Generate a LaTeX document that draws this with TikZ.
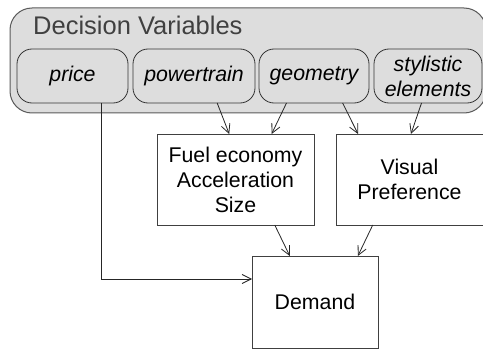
\documentclass[tikz,border=0pt]{standalone}
\usepackage{fontspec}
\setmainfont{Liberation Sans}
\usetikzlibrary{arrows.meta, calc, positioning}
\definecolor{dvGray}{RGB}{221,221,221}
\definecolor{dvLine}{RGB}{90,90,90}
\tikzset{
    outerBox/.style={draw=dvLine, fill=dvGray, rounded corners=22pt, line width=1pt, inner sep=0pt, outer sep=0pt},
    varBox/.style={draw=black!80, fill=dvGray, rounded corners=15pt, line width=0.8pt, inner sep=0pt, outer sep=0pt, minimum height=54pt, align=center, font=\fontsize{21.3}{25}\selectfont\itshape},
    effectBox/.style={draw=black!75, fill=white, line width=0.8pt, inner sep=0pt, outer sep=0pt, minimum height=91pt, align=center, font=\fontsize{21.3}{25}\selectfont},
    dvArrow/.style={-{Straight Barb[length=9pt, width=9pt]}, line width=0.8pt, black!85},
}

\begin{document}
\begin{tikzpicture}[x=1pt, y=1pt]
    \clip (0,0) rectangle (483,349);
    \useasboundingbox (0,0) rectangle (483,349);

    % 1. Decision variables
    \draw[outerBox] (10,341) rectangle (486,236);
    \node[anchor=base west, inner sep=0pt, text=black!75, font=\fontsize{25.5}{30}\selectfont] (title) at (33,314) {Decision Variables};
    \node[varBox, minimum width=111pt] (price) at (72.5,273) {price};
    \node[varBox, minimum width=122pt] (pwr) at (194,273) {powertrain};
    \node[varBox, minimum width=110pt] (geo) at (314,273) {geometry};
    \node[varBox, minimum width=108pt] (style) at (428,273) {stylistic\\elements};

    % 2. Attributes
    \node[effectBox, minimum width=157pt] (fuel) at (235.5,169.5) {Fuel economy\\Acceleration\\Size};
    \node[effectBox, minimum width=147pt] (visual) at (409.5,169.5) {Visual\\Preference};

    % 3. Demand
    \node[effectBox, minimum width=126pt, minimum height=92pt] (demand) at (315,47) {Demand};

    % 4. Links
    \draw[dvArrow] ($(pwr.south west)!.69!(pwr.south east)$) -- ($(fuel.north west)!.46!(fuel.north east)$);
    \draw[dvArrow] ($(geo.south west)!.25!(geo.south east)$) -- ($(fuel.north west)!.73!(fuel.north east)$);
    \draw[dvArrow] ($(geo.south west)!.76!(geo.south east)$) -- ($(visual.north west)!.15!(visual.north east)$);
    \draw[dvArrow] ($(style.south west)!.44!(style.south east)$) -- ($(visual.north west)!.51!(visual.north east)$);
    \draw[dvArrow] ($(fuel.south west)!.75!(fuel.south east)$) -- ($(demand.north west)!.30!(demand.north east)$);
    \draw[dvArrow] ($(visual.south west)!.25!(visual.south east)$) -- ($(demand.north west)!.84!(demand.north east)$);
    \draw[dvArrow] ($(price.south west)!.76!(price.south east)$) |- ($(demand.north west)!.25!(demand.south west)$);

\end{tikzpicture}
\end{document}
